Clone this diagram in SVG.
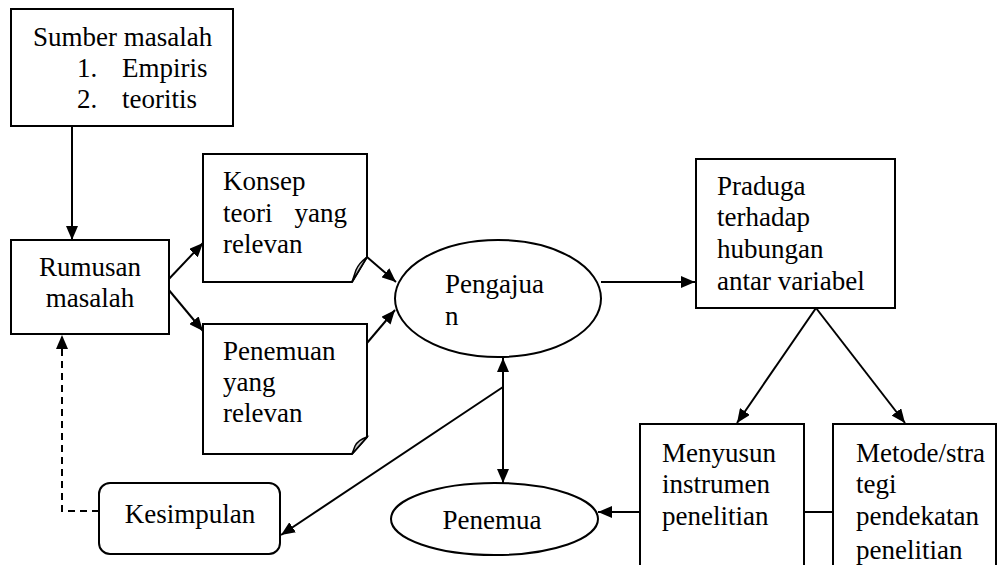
<svg xmlns="http://www.w3.org/2000/svg" width="998" height="565" viewBox="0 0 998 565" font-family="'Liberation Serif', Tinos, 'Times New Roman', 'DejaVu Serif', serif">
<style>
.box{fill:#fff;stroke:#000;stroke-width:2}
.fold{fill:#c8c8c8;stroke:#000;stroke-width:1.5}
.ln{fill:none;stroke:#000;stroke-width:2}
.dash{fill:none;stroke:#000;stroke-width:2;stroke-dasharray:7,5}
.t{font-family:'Liberation Serif', Tinos, 'Times New Roman', serif;font-size:27px;fill:#000}
</style>
<defs>
<marker id="ah" viewBox="0 0 14 12" refX="14" refY="6" markerWidth="14" markerHeight="12" markerUnits="userSpaceOnUse" orient="auto-start-reverse">
<path d="M0,0 L14,6 L0,12 z" fill="#000"/>
</marker>
</defs>
<rect width="998" height="565" fill="#fff"/>
<g id="connectors">
<line class="ln" x1="72" y1="126" x2="72" y2="240" marker-end="url(#ah)"/>
<line class="ln" x1="167" y1="281" x2="203" y2="243" marker-end="url(#ah)"/>
<line class="ln" x1="163" y1="283" x2="203" y2="331" marker-end="url(#ah)"/>
<line class="ln" x1="367" y1="257" x2="396" y2="282" marker-end="url(#ah)"/>
<line class="ln" x1="367" y1="343" x2="395" y2="310" marker-end="url(#ah)"/>
<line class="ln" x1="601" y1="282" x2="695" y2="282" marker-end="url(#ah)"/>
<line class="ln" x1="816" y1="308" x2="737" y2="423" marker-end="url(#ah)"/>
<line class="ln" x1="816" y1="308" x2="905" y2="423" marker-end="url(#ah)"/>
<line class="ln" x1="804" y1="512" x2="833" y2="512"/>
<line class="ln" x1="640" y1="512" x2="598" y2="512" marker-end="url(#ah)"/>
<line class="ln" x1="503" y1="358" x2="503" y2="483" marker-start="url(#ah)" marker-end="url(#ah)"/>
<line class="ln" x1="503" y1="387" x2="281" y2="535" marker-end="url(#ah)"/>
<polyline class="dash" points="99,511 62,511 62,335" marker-end="url(#ah)"/>
</g>
<g id="sumber">
<rect class="box" x="11" y="9" width="222" height="117"/>
<text class="t" x="33" y="46">Sumber masalah</text>
<text class="t" x="77" y="77">1.</text><text class="t" x="122" y="77">Empiris</text>
<text class="t" x="77" y="108">2.</text><text class="t" x="122" y="108">teoritis</text>
</g>
<g id="rumusan">
<rect class="box" x="11" y="240" width="158" height="94"/>
<text class="t" x="90" y="276" text-anchor="middle">Rumusan</text>
<text class="t" x="90" y="307" text-anchor="middle">masalah</text>
</g>
<g id="konsep">
<path class="box" d="M203,154 H367 V257 L352,282 H203 Z" stroke-width="2.5"/>
<path class="fold" d="M367,257 L352,282 L356,270 Q359,263 367,257 Z"/>
<text class="t" x="223" y="190">Konsep</text>
<text class="t" x="223" y="222">teori</text><text class="t" x="347" y="222" text-anchor="end">yang</text>
<text class="t" x="223" y="253">relevan</text>
</g>
<g id="penemuan">
<path class="box" d="M203,324 H367 V437 L352,454 H203 Z"/>
<path class="fold" d="M367,437 L352,454 L355,446 Q358,440 367,437 Z"/>
<text class="t" x="223" y="360">Penemuan</text>
<text class="t" x="223" y="391">yang</text>
<text class="t" x="223" y="422">relevan</text>
</g>
<g id="pengajuan">
<ellipse class="box" cx="498" cy="298.5" rx="103" ry="58.5"/>
<text class="t" x="445" y="293">Pengajua</text>
<text class="t" x="445" y="325">n</text>
</g>
<g id="praduga">
<rect class="box" x="696" y="159" width="199" height="149"/>
<text class="t" x="717" y="195">Praduga</text>
<text class="t" x="717" y="226">terhadap</text>
<text class="t" x="717" y="258">hubungan</text>
<text class="t" x="717" y="290">antar variabel</text>
</g>
<g id="menyusun">
<rect class="box" x="640" y="424" width="164" height="160"/>
<text class="t" x="662" y="462">Menyusun</text>
<text class="t" x="662" y="493">instrumen</text>
<text class="t" x="662" y="525">penelitian</text>
</g>
<g id="metode">
<rect class="box" x="833" y="424" width="163" height="160"/>
<text class="t" x="856" y="462">Metode/stra</text>
<text class="t" x="856" y="493">tegi</text>
<text class="t" x="856" y="525">pendekatan</text>
<text class="t" x="856" y="559">penelitian</text>
</g>
<g id="penemua">
<ellipse class="box" cx="494.5" cy="519" rx="103.5" ry="36"/>
<text class="t" x="492" y="529" text-anchor="middle">Penemua</text>
</g>
<g id="kesimpulan">
<rect class="box" x="99" y="483" width="181" height="71" rx="11"/>
<text class="t" x="190" y="523" text-anchor="middle">Kesimpulan</text>
</g>
</svg>
